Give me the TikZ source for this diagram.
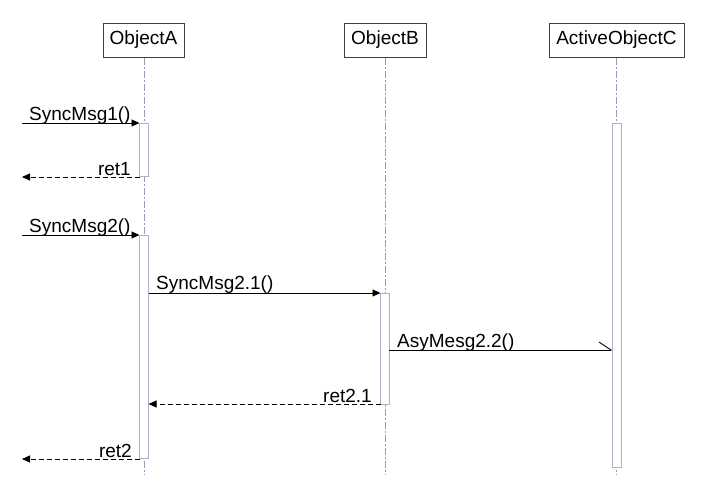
\documentclass[tikz,border=0pt]{standalone}
\usepackage{fontspec}
\setmainfont{Liberation Sans}
\usetikzlibrary{arrows.meta}
\definecolor{lifec}{HTML}{9C98B8}
\definecolor{actc}{HTML}{B4B0CC}
\definecolor{boxc}{HTML}{404040}
\begin{document}
\begin{tikzpicture}[x=1pt,y=-1pt,
  txt/.style={font=\fontsize{19}{22}\selectfont},
  obj/.style={txt,draw=boxc,line width=1pt,minimum height=34pt,inner sep=0pt,fill=white},
  life/.style={draw=lifec,line width=1pt,dash pattern=on 7pt off 2pt on 2pt off 2pt},
  actbar/.style={draw=actc,fill=white,line width=1pt},
  msg/.style={draw=black,line width=0.9pt,-{Triangle[length=8pt,width=7pt]}},
  retmsg/.style={msg,dash pattern=on 5pt off 3pt},
  asyncmsg/.style={draw=black,line width=0.9pt,-{Straight Barb[left,length=12pt,width=16pt,line width=0.9pt]}},
  lbl/.style={txt,inner sep=0pt}
]
\useasboundingbox (0,0) rectangle (702,483);
% objects
\node[obj,minimum width=81pt] (A) at (143.5,40) {ObjectA};
\node[obj,minimum width=82pt] (B) at (385,40) {ObjectB};
\node[obj,minimum width=135pt] (C) at (616.5,40) {ActiveObjectC};
% lifeline ends
\coordinate (Aend) at (144,474);
\coordinate (Bend) at (385,474);
\coordinate (Cend) at (616.5,474);
\draw[life] (A.south -| Aend) -- (Aend);
\draw[life] (B.south -| Bend) -- (Bend);
\draw[life] (C.south -| Cend) -- (Cend);
% activation bars
\draw[actbar] (139.5,123) rectangle (148.5,176.5);
\draw[actbar] (139.5,235) rectangle (148.5,458);
\draw[actbar] (380.5,293) rectangle (389,404);
\draw[actbar] (612.5,123) rectangle (621,467);
% message endpoints
\coordinate (m1s) at (22,123);   \coordinate (m1e) at (139.5,123);
\coordinate (r1s) at (139.5,177); \coordinate (r1e) at (22,177);
\coordinate (m2s) at (22,235);   \coordinate (m2e) at (139.5,235);
\coordinate (m21s) at (148.5,293); \coordinate (m21e) at (380.5,293);
\coordinate (m22s) at (389,350); \coordinate (m22e) at (612.5,350);
\coordinate (r21s) at (380.5,404); \coordinate (r21e) at (148.5,404);
\coordinate (r2s) at (139.5,459); \coordinate (r2e) at (22,459);
% messages
\draw[msg] (m1s) -- (m1e);
\draw[retmsg] (r1s) -- (r1e);
\draw[msg] (m2s) -- (m2e);
\draw[msg] (m21s) -- (m21e);
\draw[asyncmsg] (m22s) -- (m22e);
\draw[retmsg] (r21s) -- (r21e);
\draw[retmsg] (r2s) -- (r2e);
% labels
\node[lbl,anchor=base west] (l1) at (29,120.5) {SyncMsg1()};
\node[lbl,anchor=base east] (l2) at (131,175.5) {ret1};
\node[lbl,anchor=base west] (l3) at (29,232.5) {SyncMsg2()};
\node[lbl,anchor=base west] (l4) at (156,289.5) {SyncMsg2.1()};
\node[lbl,anchor=base west] (l5) at (397,347) {AsyMesg2.2()};
\node[lbl,anchor=base east] (l6) at (372,402.5) {ret2.1};
\node[lbl,anchor=base east] (l7) at (132,457.5) {ret2};
\end{tikzpicture}
\end{document}
